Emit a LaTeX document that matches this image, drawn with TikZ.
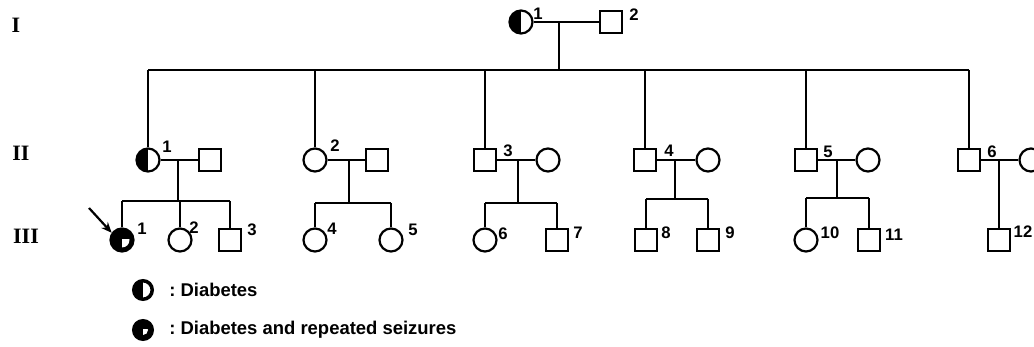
\documentclass[tikz,border=0pt]{standalone}
\usepackage{fontspec}
\newfontfamily\numfont{Liberation Sans}
\newfontfamily\romfont{Liberation Serif}
\usetikzlibrary{arrows.meta}
\tikzset{
  ind/.style={draw, line width=1.25pt, inner sep=0pt, fill=white},
  female/.style={ind, circle, minimum size=0.46cm},
  male/.style={ind, rectangle, minimum size=0.44cm},
  halfaff/.style={path picture={\fill[black] (path picture bounding box.south west) rectangle (path picture bounding box.north);}},
  seizaff/.style={path picture={
      \fill[black] (path picture bounding box.south west) rectangle (path picture bounding box.north east);
      \begin{scope}
        \clip (path picture bounding box.center) rectangle (path picture bounding box.south east);
        \fill[white] (path picture bounding box.center) circle (#1);
      \end{scope}}},
  num/.style={font=\numfont\bfseries\fontsize{9.5}{9.5}\selectfont, inner sep=0pt},
  gen/.style={font=\romfont\bfseries\fontsize{12.5}{12.5}\selectfont, inner sep=0pt},
  legtext/.style={font=\numfont\bfseries\fontsize{10.5}{10.5}\selectfont, inner sep=0pt, anchor=west},
  link/.style={line width=1.25pt},
}
\begin{document}
\begin{tikzpicture}[x=0.02cm,y=-0.02cm]
\useasboundingbox (0,0) rectangle (1034,347);
\fill[white] (0,0) rectangle (1034,347);

% generation labels
\node[gen] (gI) at (16,25) {I};
\node[gen] (gII) at (21,153) {II};
\node[gen] (gIII) at (26,236) {III};

% generation I
\node[female, halfaff] (I1) at (521,22) {};
\node[male] (I2) at (611,22) {};
\node[num] (nI1) at (538,14) {1};
\node[num] (nI2) at (634,15) {2};
\coordinate (m0) at (559,22);
\coordinate (s0) at (559,70);
\draw[link] (I1) -- (I2);
\draw[link] (m0) -- (s0);

% generation II
\node[female, halfaff] (II1) at (148,160) {};
\node[male] (H1) at (210,160) {};
\node[female] (II2) at (315,160) {};
\node[male] (H2) at (377,160) {};
\node[male] (II3) at (485,160) {};
\node[female] (W3) at (548,160) {};
\node[male] (II4) at (645,160) {};
\node[female] (W4) at (708,160) {};
\node[male] (II5) at (806,160) {};
\node[female] (W5) at (868,160) {};
\node[male] (II6) at (969,160) {};
\node[female] (W6) at (1031,160) {};

\node[num] (nII1) at (167,147) {1};
\node[num] (nII2) at (335,146) {2};
\node[num] (nII3) at (508,151) {3};
\node[num] (nII4) at (669,151) {4};
\node[num] (nII5) at (828,152) {5};
\node[num] (nII6) at (992,152) {6};

\draw[link] (II1 |- s0) -- (II6 |- s0);
\foreach \c in {II1,II2,II3,II4,II5,II6} \draw[link] (\c |- s0) -- (\c.north);

\draw[link] (II1) -- (H1);
\draw[link] (II2) -- (H2);
\draw[link] (II3) -- (W3);
\draw[link] (II4) -- (W4);
\draw[link] (II5) -- (W5);
\draw[link] (II6) -- (W6);

% generation III
\node[female, seizaff=0.15cm] (III1) at (122,240) {};
\node[female] (III2) at (180,240) {};
\node[male] (III3) at (230,240) {};
\node[female] (III4) at (315,240) {};
\node[female] (III5) at (391,240) {};
\node[female] (III6) at (485,240) {};
\node[male] (III7) at (557,240) {};
\node[male] (III8) at (646,240) {};
\node[male] (III9) at (708,240) {};
\node[female] (III10) at (806,240) {};
\node[male] (III11) at (869,240) {};
\node[male] (III12) at (999,240) {};

\node[num] (nIII1) at (142,229) {1};
\node[num] (nIII2) at (194,228) {2};
\node[num] (nIII3) at (252,230) {3};
\node[num] (nIII4) at (332,229) {4};
\node[num] (nIII5) at (413,230) {5};
\node[num] (nIII6) at (503,234) {6};
\node[num] (nIII7) at (578,233) {7};
\node[num] (nIII8) at (666,233) {8};
\node[num] (nIII9) at (730,233) {9};
\node[num] (nIII10) at (830,233) {10};
\node[num] (nIII11) at (894,235) {11};
\node[num] (nIII12) at (1023,232) {12};

% family 1
\coordinate (m1) at (178,160);
\coordinate (s1) at (178,201);
\draw[link] (m1) -- (s1);
\draw[link] (III1 |- s1) -- (III3 |- s1);
\foreach \c in {III1,III2,III3} \draw[link] (\c |- s1) -- (\c.north);
% family 2
\coordinate (m2) at (349,160);
\coordinate (s2) at (349,203);
\draw[link] (m2) -- (s2);
\draw[link] (III4 |- s2) -- (III5 |- s2);
\foreach \c in {III4,III5} \draw[link] (\c |- s2) -- (\c.north);
% family 3
\coordinate (m3) at (518,160);
\coordinate (s3) at (518,203);
\draw[link] (m3) -- (s3);
\draw[link] (III6 |- s3) -- (III7 |- s3);
\foreach \c in {III6,III7} \draw[link] (\c |- s3) -- (\c.north);
% family 4
\coordinate (m4) at (675,160);
\coordinate (s4) at (675,199);
\draw[link] (m4) -- (s4);
\draw[link] (III8 |- s4) -- (III9 |- s4);
\foreach \c in {III8,III9} \draw[link] (\c |- s4) -- (\c.north);
% family 5
\coordinate (m5) at (837,160);
\coordinate (s5) at (837,198);
\draw[link] (m5) -- (s5);
\draw[link] (III10 |- s5) -- (III11 |- s5);
\foreach \c in {III10,III11} \draw[link] (\c |- s5) -- (\c.north);
% family 6
\draw[link] (III12 |- II6) -- (III12.north);

% proband arrow
\coordinate (pa) at (89,208);
\draw[link, -{Stealth[length=6pt,width=5pt]}] (pa) -- (III1.145);

% legend
\node[female, minimum size=0.37cm, line width=2pt, halfaff] (L1) at (143,290) {};
\node[legtext] (T1) at (169,290) {:\ Diabetes};
\node[female, minimum size=0.37cm, line width=2pt, seizaff=0.1cm] (L2) at (143,330) {};
\node[legtext] (T2) at (169,330) {:\ Diabetes and repeated seizures};
\end{tikzpicture}
\end{document}
